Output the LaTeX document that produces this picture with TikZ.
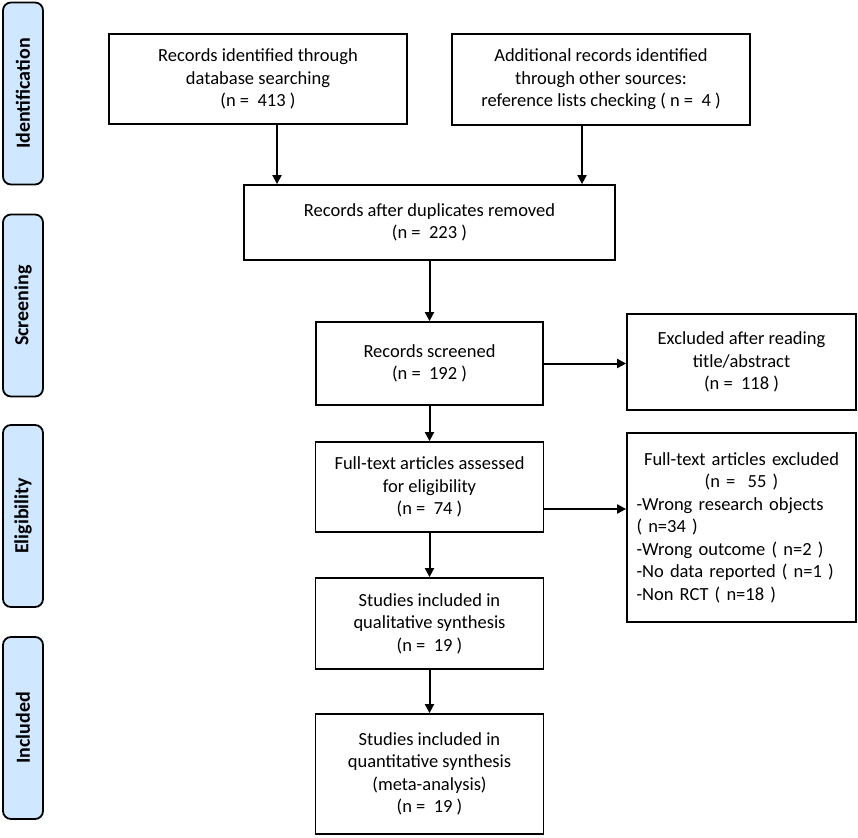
\documentclass[tikz,border=0pt]{standalone}
\usepackage{fontspec}
\setmainfont{Carlito}
\usetikzlibrary{arrows.meta,calc}
\definecolor{sideblue}{RGB}{207,232,255}
\begin{document}
\begin{tikzpicture}[x=1pt,y=-1pt,
  box/.style={draw=black, line width=1.8pt, align=center, inner sep=2pt, font=\fontsize{18.5}{22.5}\selectfont},
  side/.style={draw=black, line width=1.8pt, rounded corners=8pt, fill=sideblue, minimum width=182, minimum height=40, inner sep=2pt, font=\bfseries\fontsize{20}{22}\selectfont, rotate=90},
  arr/.style={line width=2pt, -{Triangle[length=9pt,width=9pt]}}]
\useasboundingbox (0,0) rectangle (858,837);

\node[side] (s1) at (23,93.5) {Identification};
\node[side] (s2) at (23,305.5) {Screening};
\node[side] (s3) at (23,516) {Eligibility};
\node[side] (s4) at (23,728) {Included};

\node[box, minimum width=298, minimum height=90] (b1) at (258,79) {Records identified through\\database searching\\(n =\ \ 413 )};
\node[box, minimum width=298, minimum height=91] (b2) at (601,79.5) {Additional records identified\\through other sources:\\reference lists checking ( n =\ \ 4 )};
\node[box, minimum width=371, minimum height=75] (b3) at (429.5,222.5) {Records after duplicates removed\\(n =\ \ 223 )};
\node[box, minimum width=227, minimum height=83] (b4) at (429.5,363.5) {Records screened\\(n =\ \ 192 )};
\node[box, minimum width=229, minimum height=96] (e1) at (741.5,362) {Excluded after reading\\title/abstract\\(n =\ \ 118 )};
\node[box, minimum width=228, minimum height=90] (b5) at (429.5,487) {Full-text articles assessed\\for eligibility\\(n =\ \ 74 )};
\node[box, minimum width=229, minimum height=189, text width=210, align=left] (e2) at (741.5,527.5) {{\centering Full-text articles excluded\\(n =\ \ 55 )\par}\raggedright -Wrong research objects\\( n=34 )\\-Wrong outcome ( n=2 )\\-No data reported ( n=1 )\\-Non RCT ( n=18 )};
\node[box, minimum width=228, minimum height=91] (b7) at (429.5,623.5) {Studies included in\\qualitative synthesis\\(n =\ \ 19 )};
\node[box, minimum width=228, minimum height=120] (b8) at (429.5,774) {Studies included in\\quantitative synthesis\\(meta-analysis)\\(n =\ \ 19 )};

\coordinate (p5) at ($(b5.east)+(0,22)$);
\draw[arr] ([xshift=19pt]b1.south) -- ([xshift=19pt]b1.south |- b3.north);
\draw[arr] ([xshift=-19pt]b2.south) -- ([xshift=-19pt]b2.south |- b3.north);
\draw[arr] (b3.south) -- (b4.north);
\draw[arr] (b4.east) -- (b4.east -| e1.west);
\draw[arr] (b4.south) -- (b5.north);
\draw[arr] (p5) -- (p5 -| e2.west);
\draw[arr] (b5.south) -- (b7.north);
\draw[arr] (b7.south) -- (b8.north);
\end{tikzpicture}
\end{document}
